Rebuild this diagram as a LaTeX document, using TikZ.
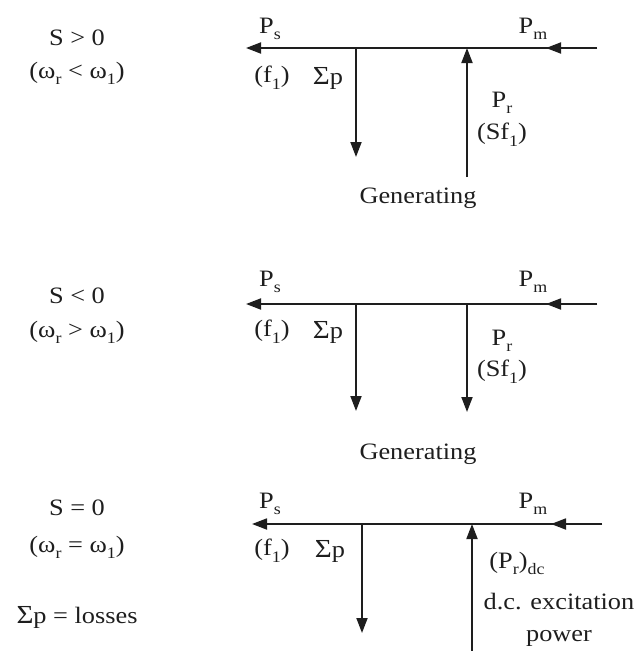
\documentclass[tikz,border=0pt]{standalone}
\usepackage{fontspec}
\setmainfont{Liberation Serif}[FakeStretch=1.12]
\usetikzlibrary{arrows.meta}
\definecolor{ink}{HTML}{1E1E1E}
\newcommand{\lo}[1]{\raisebox{-0.28em}{\fontsize{16}{16}\selectfont #1}}
\newcommand{\bigsum}{{\fontsize{26}{26}\selectfont Σ}}
\begin{document}
\begin{tikzpicture}[x=1pt,y=-1pt,
  wire/.style={draw=ink,line width=1.8pt},
  arr/.style={wire,-{Triangle[length=15pt,width=11pt]}},
  lbl/.style={inner sep=0pt,text=ink,font=\fontsize{23.5}{27}\selectfont},
  lb/.style={lbl,anchor=base}]
\useasboundingbox (0,0) rectangle (644,651);

% ---------- top: S > 0 ----------
\coordinate (aL) at (246,48); \coordinate (aR) at (597,48); \coordinate (aM) at (546,48);
\coordinate (aS) at (356,48); \coordinate (aSe) at (356,157);
\coordinate (aP) at (467,48); \coordinate (aPs) at (467,177);
\draw[arr] (aR) -- (aL);
\draw[arr] (aR) -- (aM);
\draw[arr] (aS) -- (aSe);
\draw[arr] (aPs) -- (aP);
\node[lb] (aps) at (270,33) {P\lo{s}};
\node[lb] (apm) at (533,33) {P\lo{m}};
\node[lbl] (af1) at (272,78) {(f\lo{1})};
\node[lbl] (asp) at (328,78) {\bigsum p};
\node[lb] (apr) at (502,107) {P\lo{r}};
\node[lbl] (asf) at (502,135) {(Sf\lo{1})};
\node[lb] (agen) at (418,203) {Generating};
\node[lb] (as) at (77,45) {S > 0};
\node[lb] (aw) at (77,78) {(ω\lo{r} < ω\lo{1})};

% ---------- middle: S < 0 ----------
\coordinate (bL) at (246,304); \coordinate (bR) at (597,304); \coordinate (bM) at (546,304);
\coordinate (bS) at (356,304); \coordinate (bSe) at (356,411);
\coordinate (bP) at (467,304); \coordinate (bPe) at (467,412);
\draw[arr] (bR) -- (bL);
\draw[arr] (bR) -- (bM);
\draw[arr] (bS) -- (bSe);
\draw[arr] (bP) -- (bPe);
\node[lb] (bps) at (270,286) {P\lo{s}};
\node[lb] (bpm) at (533,286) {P\lo{m}};
\node[lbl] (bf1) at (272,332) {(f\lo{1})};
\node[lbl] (bsp) at (328,332) {\bigsum p};
\node[lb] (bpr) at (502,345) {P\lo{r}};
\node[lbl] (bsf) at (502,372) {(Sf\lo{1})};
\node[lb] (bgen) at (418,459) {Generating};
\node[lb] (bs) at (77,303) {S < 0};
\node[lb] (bw) at (77,337) {(ω\lo{r} > ω\lo{1})};

% ---------- bottom: S = 0 ----------
\coordinate (cL) at (252,524); \coordinate (cR) at (602,524); \coordinate (cM) at (551,524);
\coordinate (cS) at (362,524); \coordinate (cSe) at (362,633);
\coordinate (cP) at (472,524); \coordinate (cPs) at (472,651);
\draw[arr] (cR) -- (cL);
\draw[arr] (cR) -- (cM);
\draw[arr] (cS) -- (cSe);
\draw[arr] (cPs) -- (cP);
\node[lb] (cps) at (270,508) {P\lo{s}};
\node[lb] (cpm) at (533,508) {P\lo{m}};
\node[lbl] (cf1) at (272,551) {(f\lo{1})};
\node[lbl] (csp) at (330,551) {\bigsum p};
\node[lb] (cpr) at (517,568) {(P\lo{r})\lo{dc}};
\node[lb] (cdc) at (559,609) {d.c. excitation};
\node[lb] (cpw) at (559,641) {power};
\node[lb] (cs) at (77,515) {S = 0};
\node[lb] (cw) at (77,552) {(ω\lo{r} = ω\lo{1})};
\node[lb] (closs) at (77,623) {\bigsum p = losses};
\end{tikzpicture}
\end{document}
